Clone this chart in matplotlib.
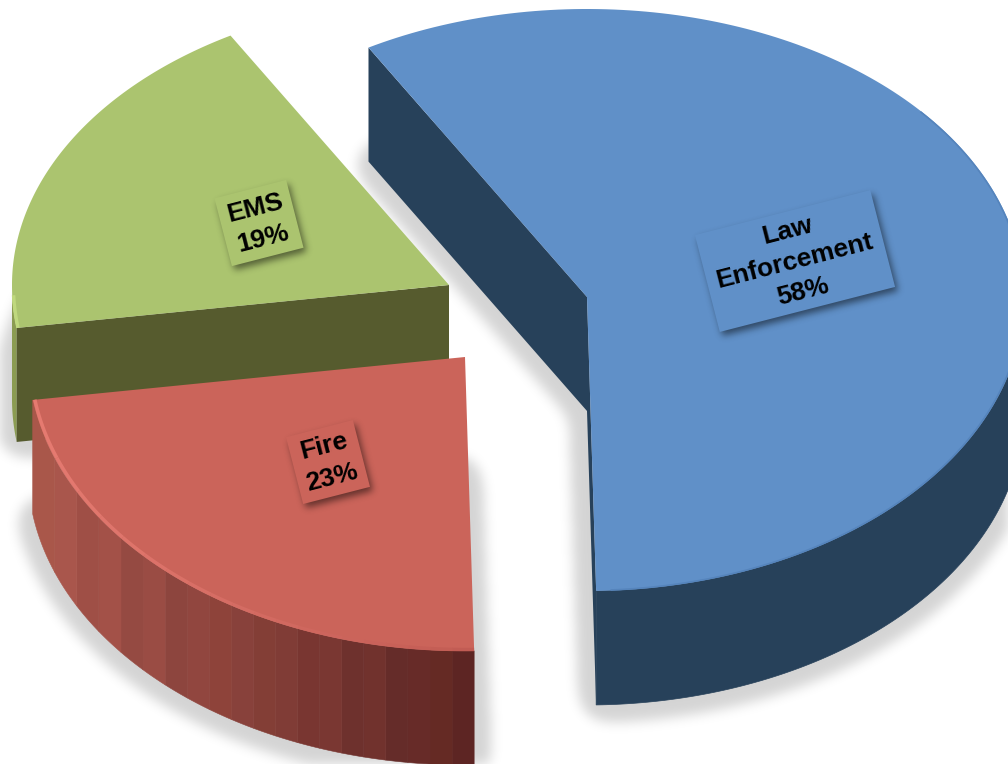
import numpy as np
import matplotlib
matplotlib.use("Agg")
import matplotlib.pyplot as plt
from matplotlib.colors import to_rgb
from matplotlib.patches import Polygon
from matplotlib.path import Path

plt.rcParams["font.family"] = ["Liberation Sans", "DejaVu Sans"]

# Chart data
labels = ["Law\nEnforcement", "Fire", "EMS"]
values = [58, 23, 19]

# Slice styling, same order as the data
top_colors = ["#6090c8", "#cb645a", "#abc46f"]
side_colors = ["#27415a", "#6e2e2b", "#565b2e"]
centers = [(587, 297), (465, 357), (449, 285)]
label_centers = [(795, 261), (328, 462), (259, 223)]
label_sizes = [(181, 100), (69, 69), (74, 70)]

# Pie geometry in pixels, the far half of the rim looks a little flatter
W, H = 1008, 764
RX = 437
RY_BACK, RY_FRONT = 288, 294
DEPTH = 114
START = -30.0
LABEL_ANGLE = 14.4


def rim(center, a0, a1, n=200, dy=0, scale=1.0):
    # points on the tilted rim, angles in degrees clockwise from the top
    t = np.radians(np.linspace(a0, a1, n))
    ry = np.where(np.cos(t) > 0, RY_BACK, RY_FRONT)
    x = center[0] + RX * scale * np.sin(t)
    y = center[1] - ry * scale * np.cos(t) + dy
    return np.column_stack([x, y])


def wall(center, a0, a1, n=200):
    return np.vstack([rim(center, a0, a1, n), rim(center, a1, a0, n, dy=DEPTH)])


def cut_face(center, angle):
    p = rim(center, angle, angle, 1)[0]
    c = np.array(center, dtype=float)
    d = np.array([0, DEPTH])
    return np.array([c, p, p + d, c + d])


def blur(img, sigma):
    r = int(3 * sigma)
    k = np.exp(-0.5 * (np.arange(-r, r + 1) / sigma) ** 2)
    k /= k.sum()
    img = np.apply_along_axis(lambda v: np.convolve(v, k, mode="same"), 0, img)
    return np.apply_along_axis(lambda v: np.convolve(v, k, mode="same"), 1, img)


def soft_shadow(ax, outlines, sigma, offset, strength, zorder, grow=0):
    xx, yy = np.meshgrid(np.arange(W) + 0.5, np.arange(H) + 0.5)
    pts = np.column_stack([xx.ravel() - offset[0], yy.ravel() - offset[1]])
    mask = np.zeros(H * W)
    for outline in outlines:
        mask = np.maximum(mask, Path(outline).contains_points(pts).astype(float))
    mask = mask.reshape(H, W)
    if grow:
        # widen the outline before softening it
        mask = (blur(mask, grow) > 0.05).astype(float)
    rgba = np.zeros((H, W, 4))
    rgba[..., 3] = blur(mask, sigma) * strength
    ax.imshow(rgba, extent=(0, W, H, 0), interpolation="nearest", aspect="auto", zorder=zorder)


def mix(c0, c1, f):
    return tuple(np.array(to_rgb(c0)) * (1 - f) + np.array(to_rgb(c1)) * f)


def rotated_box(center, size, angle):
    a = np.radians(angle)
    ux = np.array([np.cos(a), -np.sin(a)]) * size[0] / 2
    uy = np.array([np.sin(a), np.cos(a)]) * size[1] / 2
    c = np.array(center, dtype=float)
    return np.array([c - ux - uy, c + ux - uy, c + ux + uy, c - ux + uy])


fig = plt.figure(figsize=(W / 100, H / 100), dpi=100)
ax = fig.add_axes([0, 0, 1, 1])
ax.set_xlim(0, W)
ax.set_ylim(H, 0)
ax.axis("off")

# Slice angles come from the values
total = sum(values)
spans = [v / total * 360 for v in values]
starts = [START + sum(spans[:i]) for i in range(len(values))]
law, fire, ems = 0, 1, 2
ranges = [(starts[i], starts[i] + spans[i]) for i in range(3)]

# Soft shadow around the bottom faces of the slices
outlines = []
for i in range(3):
    a0, a1 = ranges[i]
    c = centers[i]
    outlines.append(np.vstack([[(c[0], c[1] + DEPTH)], rim(c, a0, a1, dy=DEPTH)]))
soft_shadow(ax, outlines, 6, (0, 0), 0.17, 1, grow=11)

# EMS slice, drawn first because the others sit in front of it
a0, a1 = ranges[ems]
c = centers[ems]
ax.add_patch(Polygon(wall(c, a0, 270), fc="#8b9c52", ec="none", zorder=2))
ax.add_patch(Polygon(cut_face(c, a0), fc=side_colors[ems], ec="none", zorder=3))
ax.add_patch(Polygon(np.vstack([[c], rim(c, a0, a1)]), fc=top_colors[ems], ec="none", zorder=4))
ax.plot(*rim(c, a0, 268, scale=0.997).T, color="#bfd87e", lw=2.5, solid_capstyle="butt", zorder=4)

# Law enforcement slice
a0, a1 = ranges[law]
c = centers[law]
ax.add_patch(Polygon(wall(c, 90, a1), fc=side_colors[law], ec=side_colors[law], lw=0.5, zorder=5))
ax.add_patch(Polygon(cut_face(c, a0), fc=side_colors[law], ec="none", zorder=5))
ax.add_patch(Polygon(cut_face(c, a1), fc=side_colors[law], ec="none", zorder=5))
ax.add_patch(Polygon(np.vstack([[c], rim(c, a0, a1)]), fc=top_colors[law], ec="none", zorder=6))
ax.plot(*rim(c, 50, a1 - 2, scale=0.998).T, color="#5584bc", lw=1.2, zorder=6)

# Fire slice, its wall is banded from light on the left to dark on the right
a0, a1 = ranges[fire]
c = centers[fire]
n_bands = 20
edges = np.degrees(np.pi - np.arcsin(np.linspace(np.sin(np.radians(a0)), np.sin(np.radians(a1)), n_bands + 1)))
edges[0], edges[-1] = a0, a1
tints = ["#000000", "#7a3000", "#300000", "#000000", "#4a3000"]
for i in range(n_bands):
    f = i / (n_bands - 1)
    base = mix("#5f2624", "#b05a50", f ** 0.95)
    band = mix(base, tints[i % len(tints)], 0.07 if i % 2 else 0.02)
    ax.add_patch(Polygon(wall(c, edges[i], edges[i + 1], 12), fc=band, ec=band, lw=0.4, zorder=7))
ax.add_patch(Polygon(np.vstack([[c], rim(c, a0, a1)]), fc=top_colors[fire], ec="none", zorder=8))
for i in range(n_bands):
    f = i / (n_bands - 1)
    ax.plot(*rim(c, edges[i], edges[i + 1], 12, scale=0.995).T, color=mix("#c25c54", "#e57a70", f),
            lw=2.5, solid_capstyle="butt", zorder=8)

# Value labels on rotated boxes with a small drop shadow
boxes = [rotated_box(label_centers[i], label_sizes[i], LABEL_ANGLE) for i in range(3)]
soft_shadow(ax, boxes, 3.5, (3, 4), 0.5, 9)
for i in range(3):
    ax.add_patch(Polygon(boxes[i], fc=top_colors[i], ec="none", zorder=10))
    ax.text(label_centers[i][0], label_centers[i][1], f"{labels[i]}\n{values[i]}%",
            ha="center", va="center", ma="center", rotation=LABEL_ANGLE, rotation_mode="anchor",
            fontsize=19, fontweight="bold", color="black", linespacing=1.4, zorder=11)

fig.savefig("out.png", dpi=100)
plt.close(fig)
